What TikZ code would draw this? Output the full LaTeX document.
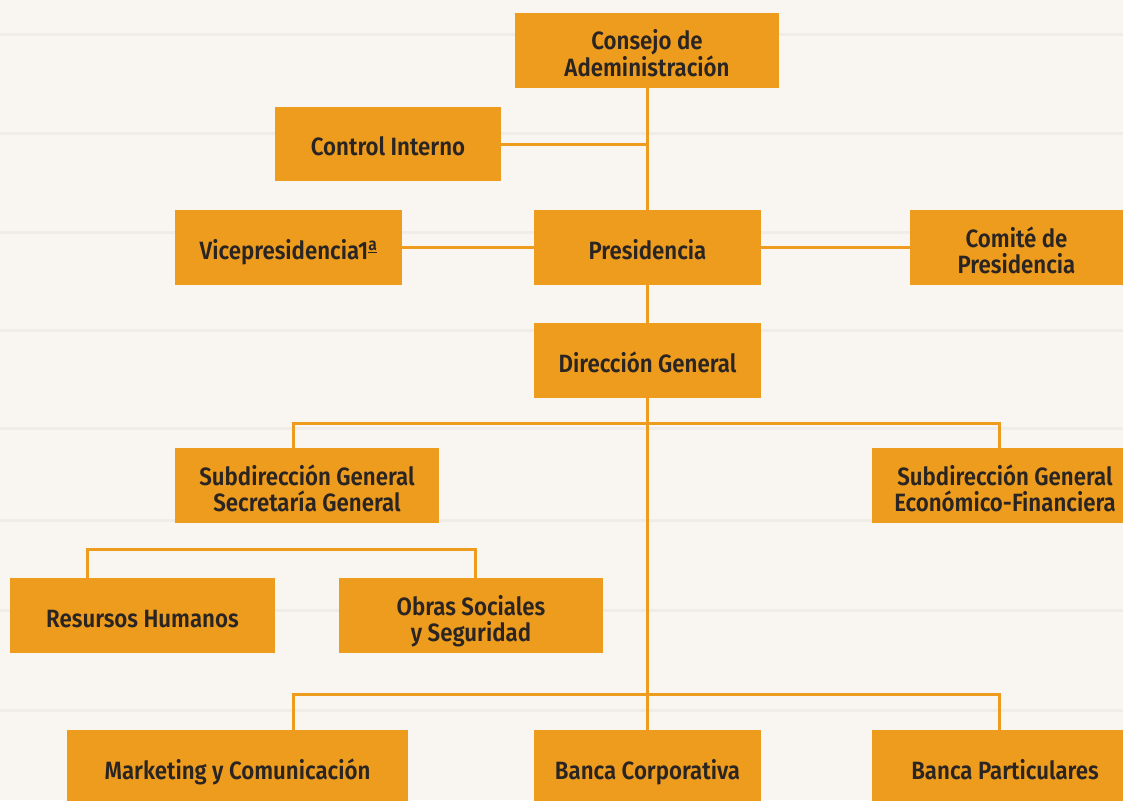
\documentclass[tikz,border=0pt]{standalone}
\usepackage{fontspec}
\setmainfont{Fira Sans SemiBold}[FakeStretch=0.89]
\pgfdeclarelayer{bg}
\pgfdeclarelayer{lines}
\pgfsetlayers{bg,lines,main}
\definecolor{boxorange}{HTML}{EE9C1E}
\definecolor{txtdark}{HTML}{2A2522}
\definecolor{paper}{HTML}{F9F6F2}
\definecolor{grain}{HTML}{EDE9E4}
\newcommand{\boxstrut}{\rule[-0.23em]{0pt}{1.4em}}
\newcommand{\topstrut}{\rule{0pt}{1.24em}}
\newcommand{\botstrut}{\rule[-0.23em]{0pt}{0pt}}
\tikzset{
  orgbox/.style={fill=boxorange, draw=none, inner sep=0pt, text=txtdark,
    align=center, font=\fontsize{25}{26}\selectfont, minimum height=75pt,
    execute at begin node=\boxstrut, execute at end node=\boxstrut},
  twoline/.style={orgbox, execute at begin node={}, execute at end node={}},
  link/.style={draw=boxorange, line width=3pt}
}
\begin{document}
\begin{tikzpicture}[x=1pt,y=-1pt]
\useasboundingbox (0,0) rectangle (1123,800);
\clip (0,0) rectangle (1123,800);
\begin{pgfonlayer}{bg}
  \fill[paper] (0,0) rectangle (1123,800);
  \foreach \yy in {35,133,232,330,428,520,610,710}
    \draw[grain, line width=3pt, opacity=0.7] (0,\yy) -- (1123,\yy);
\end{pgfonlayer}

\node[twoline, minimum width=264pt] (cons) at (647,50.5) {\topstrut Consejo de\\Adeministración\botstrut};
\node[orgbox, minimum width=226pt, minimum height=74pt] (ctrl) at (388,144) {Control Interno};
\node[orgbox, minimum width=227pt] (vice) at (288.5,247.5) {Vicepresidencia1\textsuperscript{\underline{a}}};
\node[orgbox, minimum width=227pt] (pres) at (647.5,247.5) {Presidencia};
\node[twoline, minimum width=213pt] (comite) at (1016.5,247.5) {\topstrut Comité de\\Presidencia\botstrut};
\node[orgbox, minimum width=227pt] (dirgen) at (647.5,360.5) {Dirección General};
\node[twoline, minimum width=264pt] (secgen) at (307,485.5) {\topstrut Subdirección General\\Secretaría General\botstrut};
\node[twoline, minimum width=266pt] (econ) at (1005,485.5) {\topstrut Subdirección General\\Económico-Financiera\botstrut};
\node[orgbox, minimum width=265pt] (rrhh) at (142.5,615.5) {Resursos Humanos};
\node[twoline, minimum width=264pt] (obras) at (471,615.5) {\topstrut Obras Sociales\\y Seguridad\botstrut};
\node[orgbox, minimum width=341pt] (mkt) at (237.5,767.5) {Marketing y Comunicación};
\node[orgbox, minimum width=227pt] (bcorp) at (647.5,767.5) {Banca Corporativa};
\node[orgbox, minimum width=266pt] (bpart) at (1005,767.5) {Banca Particulares};

\coordinate (spine) at (647,0);
\coordinate (jsub) at (647,423);
\coordinate (jbot) at (647,694);
\coordinate (jhr) at (87,549);

\begin{pgfonlayer}{lines}
  \draw[link] (cons.south -| spine) -- (bcorp.north -| spine);
  \draw[link] (ctrl.east) -- (ctrl.east -| spine);
  \draw[link] (vice.east) -- (pres.west);
  \draw[link] (pres.east) -- (comite.west);
  \draw[link] (secgen.north -| 293,0) |- (jsub) -| (econ.north -| 999,0);
  \draw[link] (mkt.north -| 293,0) |- (jbot) -| (bpart.north -| 999,0);
  \draw[link] (rrhh.north -| jhr) |- (jhr) -| (obras.north -| 475,0);
\end{pgfonlayer}
\end{tikzpicture}
\end{document}
